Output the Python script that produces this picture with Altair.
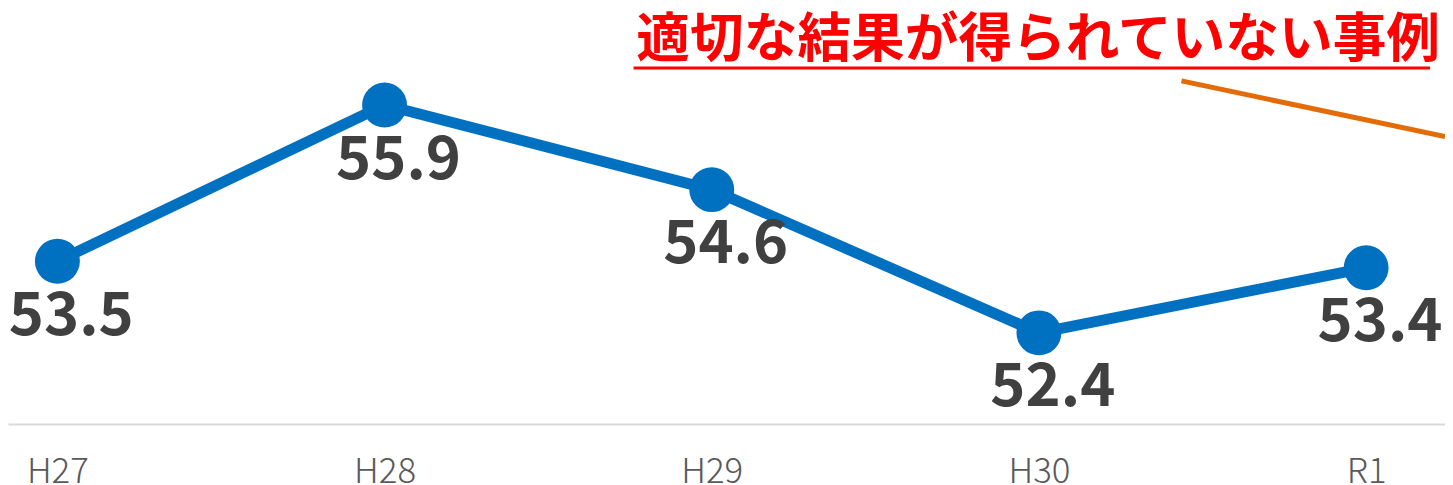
import altair as alt
import pandas as pd

years = ["H27", "H28", "H29", "H30", "R1"]
values = [53.5, 55.9, 54.6, 52.4, 53.4]
title_text = "適切な結果が得られていない事例"

df = pd.DataFrame({"year": years, "value": values})
df["label"] = df["value"].map(lambda v: f"{v:.1f}")

W, H = 1445, 417
FONT = "Noto Sans CJK JP"

x = alt.X(
    "year:N",
    sort=years,
    scale=alt.Scale(type="point", padding=0.196, align=0.385),
    axis=alt.Axis(
        title=None,
        labelAngle=0,
        ticks=False,
        domain=True,
        domainColor="#d9d9d9",
        domainWidth=2,
        labelFont=FONT,
        labelFontSize=35,
        labelFontWeight=300,
        labelColor="#595959",
        labelPadding=31,
        grid=False,
    ),
)
y = alt.Y("value:Q", scale=alt.Scale(domain=[51, 57.37], nice=False, zero=False), axis=None)

base = alt.Chart(df).encode(x=x, y=y)

line = base.mark_line(color="#0070C0", strokeWidth=11)
points = base.mark_point(filled=True, opacity=1, color="#0070C0", size=2040)
labels = base.mark_text(
    font=FONT, fontSize=60, fontWeight="bold", color="#404040", dx=14, dy=56
).encode(text="label:N")

title = alt.Chart(pd.DataFrame({"t": [title_text]})).mark_text(
    font=FONT, fontSize=54, fontWeight="bold", color="#FF0000", align="right", baseline="alphabetic"
).encode(text="t:N", x=alt.value(1440), y=alt.value(48))

underline = alt.Chart(pd.DataFrame({"a": [0]})).mark_rule(color="#FF0000", strokeWidth=3).encode(
    x=alt.value(629), x2=alt.value(1430), y=alt.value(59)
)

arrow = alt.Chart(pd.DataFrame({"a": [0]})).mark_rule(color="#E36C09", strokeWidth=5).encode(
    x=alt.value(1180), x2=alt.value(1445), y=alt.value(72), y2=alt.value(128)
)

chart = (
    alt.layer(line, points, labels, title, underline, arrow)
    .properties(
        width=W,
        height=H,
        background="white",
        autosize=alt.AutoSizeParams(type="none"),
        padding={"left": 0, "top": 0, "right": 0, "bottom": 60},
    )
    .configure_view(strokeWidth=0, stroke=None)
)

chart.save("out.html", embed_options={"renderer": "svg", "actions": False})
